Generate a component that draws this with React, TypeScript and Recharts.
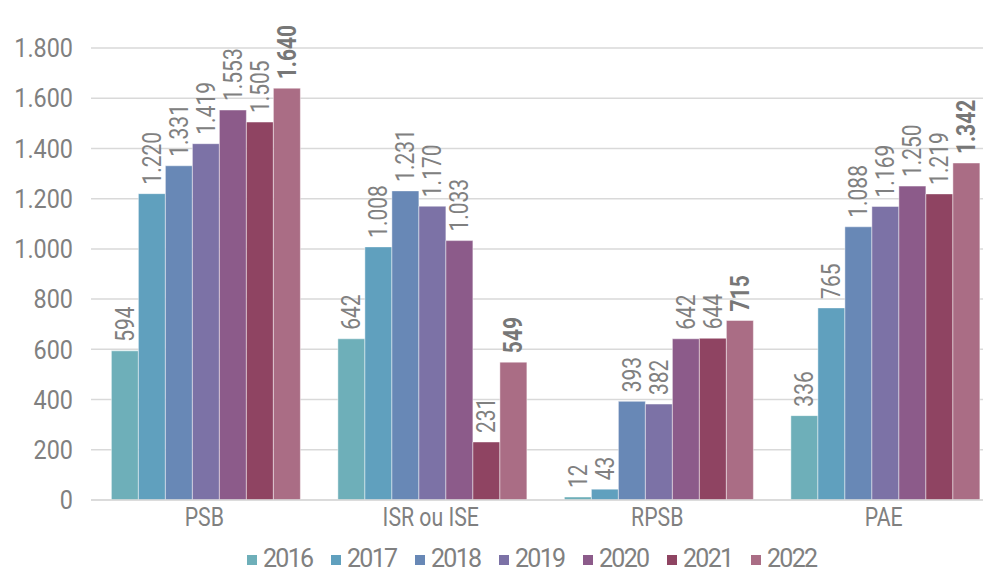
import React from 'react';
import { BarChart, Bar, XAxis, YAxis, CartesianGrid, Legend, LabelList } from 'recharts';

const categories = ['PSB', 'ISR ou ISE', 'RPSB', 'PAE'];
const years = ['2016', '2017', '2018', '2019', '2020', '2021', '2022'];
const v2016 = [594, 642, 12, 336];
const v2017 = [1220, 1008, 43, 765];
const v2018 = [1331, 1231, 393, 1088];
const v2019 = [1419, 1170, 382, 1169];
const v2020 = [1553, 1033, 642, 1250];
const v2021 = [1505, 231, 644, 1219];
const v2022 = [1640, 549, 715, 1342];
const yTicks = [0, 200, 400, 600, 800, 1000, 1200, 1400, 1600, 1800];

const seriesValues = [v2016, v2017, v2018, v2019, v2020, v2021, v2022];
const colors = ['#6EAFB9', '#60A0BE', '#6888B6', '#7C72A6', '#8C5B8A', '#8F4462', '#AA6D85'];

const data = categories.map((c, i) => {
  const row: any = { name: c };
  years.forEach((y, k) => {
    row[y] = seriesValues[k][i];
  });
  return row;
});

const FONT = "Roboto, 'Noto Sans', sans-serif";
const GREY = '#808080';

const fmt = (v: number) => String(v).replace(/\B(?=(\d{3})+(?!\d))/g, '.');

const makeLabel = (bold: boolean) => (props: any) => {
  const { x, y, width, value } = props;
  const cx = Number(x) + Number(width) / 2;
  const ty = Number(y) - 9;
  return (
    <g transform={`translate(${cx},${ty}) rotate(-90) scale(0.84,1)`}>
      <text
        x={0}
        y={0}
        dy="0.355em"
        textAnchor="start"
        fontFamily={FONT}
        fontSize={25}
        fontWeight={bold ? 700 : 400}
        fill={bold ? '#777777' : GREY}
      >
        {fmt(value)}
      </text>
    </g>
  );
};

const YTick = (props: any) => {
  const { x, y, payload } = props;
  return (
    <g transform={`translate(${x},${y}) scale(0.9,1)`}>
      <text x={0} y={0} dy="0.355em" textAnchor="end" fontFamily={FONT} fontSize={26} fontWeight={400} fill={GREY}>
        {fmt(payload.value)}
      </text>
    </g>
  );
};

const XTick = (props: any) => {
  const { x, y, payload } = props;
  return (
    <g transform={`translate(${x},${y}) scale(0.85,1)`}>
      <text x={0} y={0} dy="0.71em" textAnchor="middle" fontFamily={FONT} fontSize={25} fontWeight={400} fill={GREY}>
        {payload.value}
      </text>
    </g>
  );
};

const LegendContent = () => (
  <div style={{ display: 'flex', alignItems: 'center', paddingLeft: 247, fontFamily: FONT }}>
    {years.map((y, k) => (
      <div key={y} style={{ display: 'flex', alignItems: 'center', width: 84, flex: '0 0 84px', whiteSpace: 'nowrap' }}>
        <div style={{ width: 10, height: 10, background: colors[k], marginRight: 6, marginTop: 2, flex: '0 0 10px' }} />
        <span
          style={{
            fontSize: 25,
            fontWeight: 400,
            color: GREY,
            lineHeight: 'normal',
            letterSpacing: '-1.7px',
          }}
        >
          {y}
        </span>
      </div>
    ))}
  </div>
);

export default function App() {
  return (
    <div style={{ position: 'fixed', left: 0, top: 0, width: 983, height: 574, overflow: 'hidden', background: '#fff' }}>
      <BarChart
        width={1000}
        height={574}
        data={data}
        margin={{ top: 48, right: 3, left: 0, bottom: 15 }}
        barCategoryGap="9%"
        barGap={0}
      >
        <CartesianGrid vertical={false} stroke="#d9d9d9" strokeWidth={1.5} />
        <XAxis
          dataKey="name"
          axisLine={{ stroke: '#d9d9d9', strokeWidth: 1.5 }}
          tickLine={false}
          tickMargin={2}
          height={30}
          tick={<XTick />}
        />
        <YAxis
          domain={[0, 1800]}
          ticks={yTicks}
          width={91}
          axisLine={false}
          tickLine={false}
          tickMargin={12}
          tick={<YTick />}
        />
        <Legend
          verticalAlign="bottom"
          height={30}
          content={<LegendContent />}
          wrapperStyle={{ left: 0, top: 544, bottom: 'auto', width: 983, height: 'auto' }}
        />
        {years.map((y, k) => (
          <Bar key={y} dataKey={y} fill={colors[k]} stroke="#ffffff" strokeOpacity={0.45} strokeWidth={1} isAnimationActive={false}>
            <LabelList dataKey={y} content={makeLabel(k === 6)} />
          </Bar>
        ))}
      </BarChart>
    </div>
  );
}
